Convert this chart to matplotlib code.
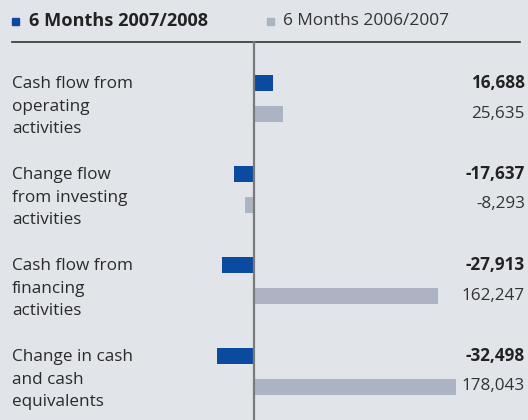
import matplotlib.pyplot as plt
import matplotlib.transforms as mtransforms

categories = ["Cash flow from\noperating\nactivities",
              "Change flow\nfrom investing\nactivities",
              "Cash flow from\nfinancing\nactivities",
              "Change in cash\nand cash\nequivalents"]
values_0708 = [16688, -17637, -27913, -32498]
values_0607 = [25635, -8293, 162247, 178043]
series_names = ["6 Months 2007/2008", "6 Months 2006/2007"]

bg = "#e1e5ea"
blue = "#0a4a9f"
grey = "#acb4c4"
W, H = 528, 420

plt.rcParams['font.family'] = ['Open Sans', 'DejaVu Sans']
fig = plt.figure(figsize=(W / 100, H / 100), dpi=100, facecolor=bg)
ax = fig.add_axes([0, 0, 1, 1])
ax.set_facecolor(bg)

# x axis in values, zero at pixel 254; y axis in pixels from top
px_per_unit = 1.135 / 1000
ax.set_xlim(-254 / px_per_unit, (W - 254) / px_per_unit)
ax.set_ylim(H, 0)
ax.axis("off")

# pixel coordinates (from top-left) for text and decorations
pix = mtransforms.Affine2D().scale(1 / W, -1 / H).translate(0, 1) + fig.transFigure

blue_y = [83 + 91 * i for i in range(len(categories))]
grey_y = [y + 30.5 for y in blue_y]

ax.barh(blue_y, values_0708, height=16, color=blue, zorder=2)
ax.barh(grey_y, values_0607, height=16, color=grey, zorder=2)

# lines
ax.plot([12, 520], [42, 42], transform=pix, color="#333333", lw=1.2, clip_on=False)
ax.axvline(0, ymin=0, ymax=1 - 42 / H, color="#7a7a7a", lw=1.6, zorder=3)

# legend
ax.add_patch(plt.Rectangle((12, 18), 7, 7, transform=pix, color=blue, clip_on=False))
ax.text(29, 21, series_names[0], transform=pix, fontsize=13.1, fontweight="bold",
        color="#222222", va="center", ha="left")
ax.add_patch(plt.Rectangle((267, 18), 7, 7, transform=pix, color=grey, clip_on=False))
ax.text(283, 21, series_names[1], transform=pix, fontsize=12.4,
        color="#333333", va="center", ha="left")

fs = 12.3
for i, cat in enumerate(categories):
    top = 84 + 91 * i
    for j, line in enumerate(cat.split("\n")):
        ax.text(12, top + 22.7 * j, line, transform=pix, fontsize=fs,
                color="#2a2a2a", va="center", ha="left")
    ax.text(525, blue_y[i], f"{values_0708[i]:,}", transform=pix, fontsize=fs,
            fontweight="bold", color="#222222", va="center", ha="right")
    ax.text(525, grey_y[i], f"{values_0607[i]:,}", transform=pix, fontsize=fs,
            color="#333333", va="center", ha="right")

fig.savefig("out.png", dpi=100, facecolor=bg)
